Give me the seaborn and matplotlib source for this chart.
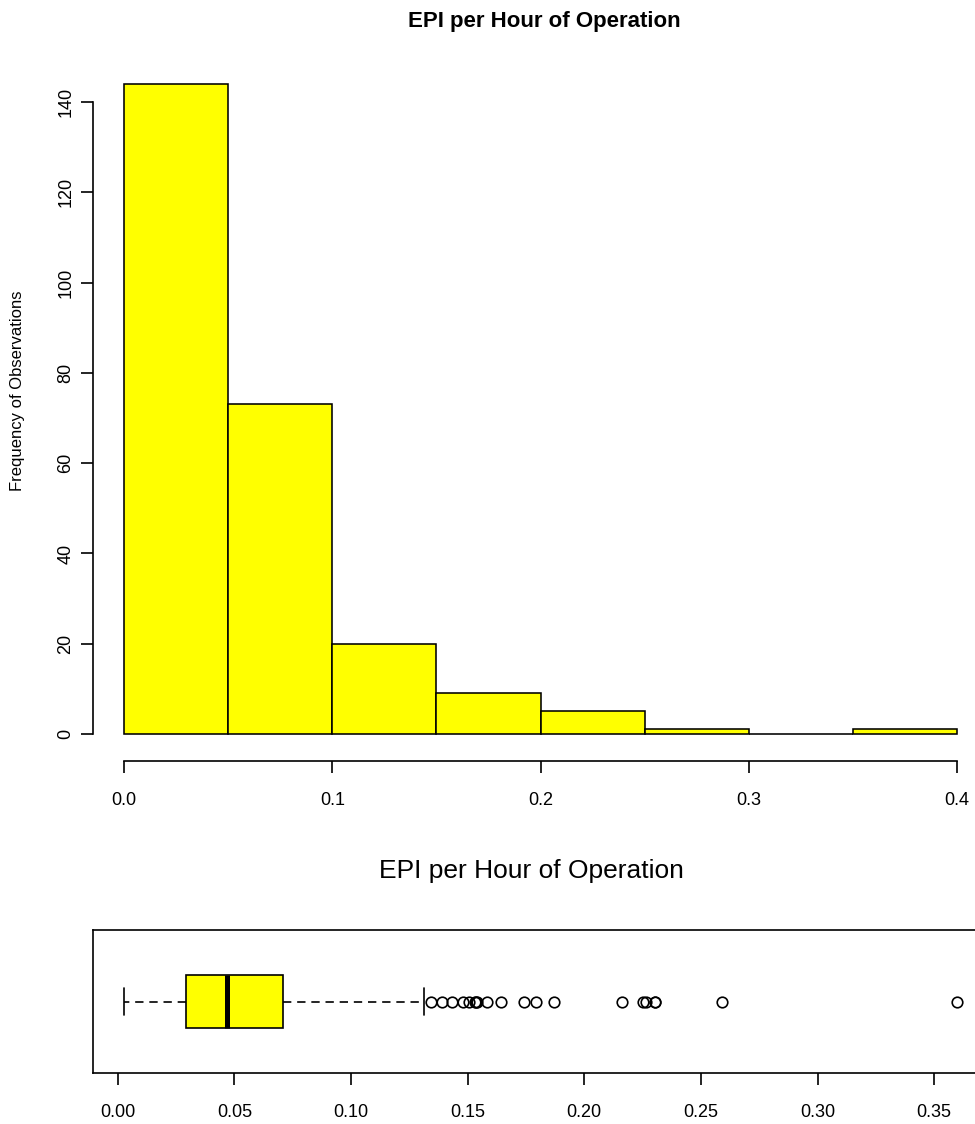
import numpy as np
import matplotlib
matplotlib.use("Agg")
import matplotlib.pyplot as plt
import seaborn as sns

# Histogram of EPI per hour of operation
bin_edges = [0.0, 0.05, 0.10, 0.15, 0.20, 0.25, 0.30, 0.35, 0.40]
bin_counts = [144, 73, 20, 9, 5, 1, 0, 1]

# Box plot summary: whisker ends, quartiles, median and the outlying points
box_lower = 0.0027
box_q1 = 0.0293
box_median = 0.0467
box_q3 = 0.0710
box_upper = 0.1313
outliers = [0.1342, 0.1389, 0.1433, 0.1478, 0.1507, 0.1530, 0.1535, 0.1541,
            0.1585, 0.1643, 0.1742, 0.1793, 0.1868, 0.2162, 0.2250, 0.2264,
            0.2303, 0.2305, 0.2591, 0.3597]

hist_xticks = [0.0, 0.1, 0.2, 0.3, 0.4]
hist_xlabels = ["0.0", "0.1", "0.2", "0.3", "0.4"]
hist_yticks = [0, 20, 40, 60, 80, 100, 120, 140]
box_xticks = [0.00, 0.05, 0.10, 0.15, 0.20, 0.25, 0.30, 0.35]
box_xlabels = ["0.00", "0.05", "0.10", "0.15", "0.20", "0.25", "0.30", "0.35"]

title = "EPI per Hour of Operation"
ylabel = "Frequency of Observations"

sns.set_style("ticks")
plt.rcParams["font.family"] = ["Liberation Sans", "DejaVu Sans"]
plt.rcParams["text.color"] = "black"
plt.rcParams["axes.labelcolor"] = "black"

W, H = 975, 1124
fig = plt.figure(figsize=(W / 100, H / 100), dpi=100)


def px_axes(left, top, right, bottom):
    return fig.add_axes([left / W, 1 - bottom / H, (right - left) / W, (bottom - top) / H])


yellow = "#FFFF00"
lw = 1.2

# ---- histogram ----
ax = px_axes(93, 58, 990, 761)
edges = np.array(bin_edges)
mids = (edges[:-1] + edges[1:]) / 2
sns.histplot(x=mids, weights=bin_counts, bins=bin_edges, ax=ax,
             color=yellow, alpha=1, edgecolor="black", linewidth=1.15)
ax.set_xlim(-0.01489, 0.41585)
ax.set_ylim(-5.98, 149.76)
ax.set_xlabel("")
ax.set_ylabel("")
for s in ("top", "right"):
    ax.spines[s].set_visible(False)
ax.spines["left"].set_bounds(0, 140)
ax.spines["bottom"].set_bounds(0, 0.4)
for s in ("left", "bottom"):
    ax.spines[s].set_linewidth(lw)
    ax.spines[s].set_color("black")
ax.set_xticks(hist_xticks)
ax.set_xticklabels(hist_xlabels)
ax.set_yticks(hist_yticks)
ax.set_yticklabels([str(v) for v in hist_yticks], rotation=90, va="center")
ax.tick_params(axis="both", direction="out", length=8.5, width=lw,
               labelsize=13, colors="black")
ax.tick_params(axis="x", pad=14)
ax.tick_params(axis="y", pad=5)

fig.text(544 / W, 1 - 27 / H, title, ha="center", va="baseline",
         fontsize=16, fontweight="bold", color="black")
fig.text(18 / W, 1 - 391 / H, ylabel, ha="center", va="center",
         rotation=90, fontsize=12, color="black")

# ---- box plot ----
ax2 = px_axes(93, 930, 990, 1073)
box_values = [box_lower, box_q1, box_median, box_q3, box_upper] + outliers
box_weights = [1, 21, 21, 21, 1] + [1] * len(outliers)
box_data = np.repeat(box_values, box_weights)
sns.boxplot(x=box_data, ax=ax2, orient="h", width=0.4, color=yellow,
            saturation=1, linecolor="black", linewidth=lw, whis=1.5,
            flierprops=dict(marker="o", markerfacecolor="none",
                            markeredgecolor="black", markersize=7.6,
                            markeredgewidth=1.2),
            medianprops=dict(linewidth=3.6, color="black"),
            whiskerprops=dict(linestyle=(0, (5, 3.5))))
ax2.set_xlim(-0.01059, 0.3739)
ax2.set_ylim(0.54, -0.54)
ax2.set_yticks([])
ax2.set_ylabel("")
ax2.set_xlabel("")
for s in ax2.spines.values():
    s.set_visible(True)
    s.set_linewidth(lw)
    s.set_color("black")
ax2.set_xticks(box_xticks)
ax2.set_xticklabels(box_xlabels)
ax2.tick_params(axis="x", direction="out", length=8.5, width=lw,
                labelsize=13, pad=14, colors="black")

fig.text(531 / W, 1 - 878 / H, title, ha="center", va="baseline",
         fontsize=19, color="black")

fig.savefig("out.png", dpi=100)
